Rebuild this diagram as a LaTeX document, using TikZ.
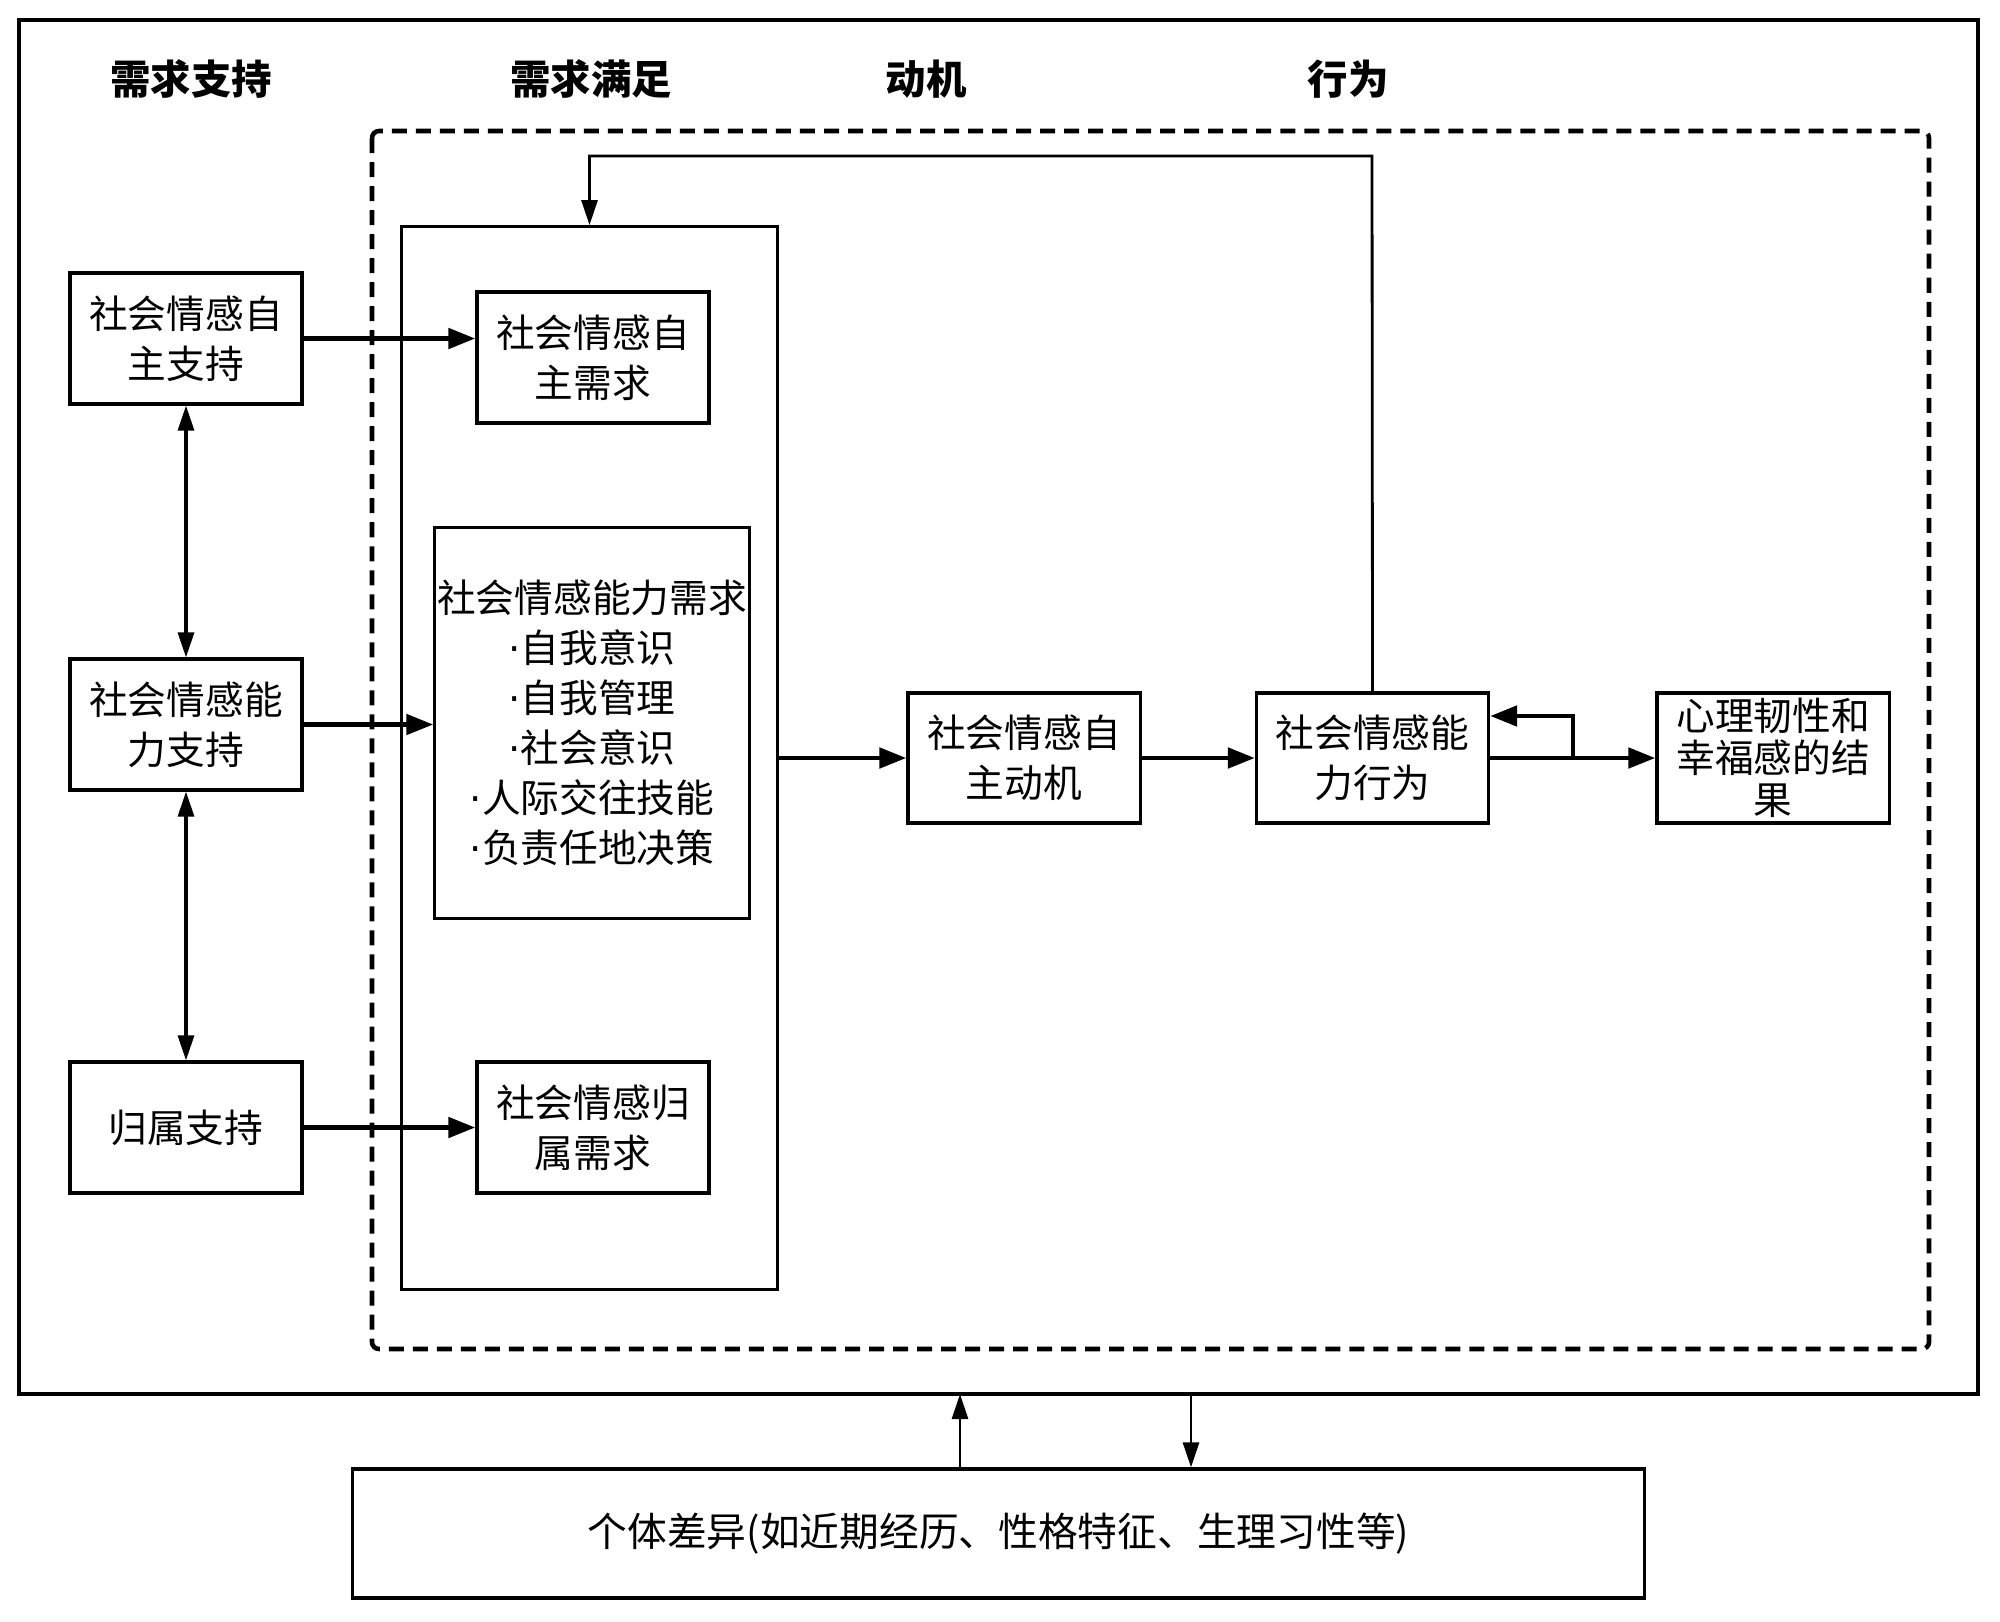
\documentclass[tikz,border=0pt]{standalone}
\usepackage{fontspec}
\setmainfont{Noto Sans CJK SC}
\newfontfamily\latdot{DejaVu Sans}
\newcommand{\bdot}{{\latdot ·}}
\usetikzlibrary{arrows.meta,positioning}
\begin{document}
\begin{tikzpicture}[x=0.01cm,y=-0.01cm,
  box/.style={draw,line width=0.9pt,align=center,inner sep=0pt,font=\fontsize{11}{14.2}\selectfont},
  hdr/.style={font=\fontsize{11.5}{14}\selectfont\bfseries},
  arr/.style={line width=1.4pt,-{Triangle[length=0.27cm,width=0.2cm]}},
  tarr/.style={line width=0.8pt,-{Triangle[length=0.25cm,width=0.16cm]}},
  darr/.style={line width=0.9pt,{Triangle[length=0.25cm,width=0.16cm]}-{Triangle[length=0.25cm,width=0.16cm]}}]
\useasboundingbox (0,0) rectangle (2000,1621);
% outer frame and dashed region
\draw[line width=1.1pt] (19,20) rectangle (1978,1394);
\draw[line width=1.3pt,dash pattern=on 0.15cm off 0.09cm,rounded corners=2pt] (372,131) rectangle (1929,1349);
% headers
\node[hdr] (h1) at (191,79) {需求支持};
\node[hdr] (h2) at (591,79) {需求满足};
\node[hdr] (h3) at (926,79) {动机};
\node[hdr] (h4) at (1348,79) {行为};
% column box
\node[box,minimum width=3.75cm,minimum height=10.62cm] (col) at (589.5,758) {};
% support boxes
\node[box,minimum width=2.32cm,minimum height=1.31cm] (s1) at (186,338.5) {社会情感自\\主支持};
\node[box,minimum width=2.32cm,minimum height=1.31cm] (s2) at (186,724.5) {社会情感能\\力支持};
\node[box,minimum width=2.32cm,minimum height=1.31cm] (s3) at (186,1127.5) {归属支持};
% need boxes
\node[box,minimum width=2.32cm,minimum height=1.31cm] (n1) at (593,357.5) {社会情感自\\主需求};
\node[box,minimum width=3.14cm,minimum height=3.90cm] (n2) at (592,723) {社会情感能力需求\\\bdot 自我意识\\\bdot 自我管理\\\bdot 社会意识\\\bdot 人际交往技能\\\bdot 负责任地决策};
\node[box,minimum width=2.32cm,minimum height=1.31cm] (n3) at (593,1127.5) {社会情感归\\属需求};
% motive, behaviour, result
\node[box,minimum width=2.32cm,minimum height=1.30cm] (mot) at (1024,758) {社会情感自\\主动机};
\node[box,minimum width=2.32cm,minimum height=1.30cm] (beh) at (1372.5,758) {社会情感能\\力行为};
\node[box,minimum width=2.32cm,minimum height=1.30cm,font=\fontsize{11}{12}\selectfont] (res) at (1773,758) {心理韧性和\\幸福感的结\\果};
% bottom box
\node[box,minimum width=12.91cm,minimum height=1.29cm,font=\fontsize{11.3}{14}\selectfont] (bot) at (998.5,1533.5) {个体差异(如近期经历、性格特征、生理习性等)};
% horizontal arrows
\draw[arr] (s1.east) -- (s1.east -| n1.west);
\draw[arr] (s2.east) -- (s2.east -| n2.west);
\draw[arr] (s3.east) -- (s3.east -| n3.west);
\draw[arr] (col.east) -- (mot.west);
\draw[arr] (mot.east) -- (beh.west);
\draw[arr] (beh.east) -- (res.west);
\coordinate (br) at (1573,758);
\coordinate (bk) at (1573,716);
\draw[arr] (br) -- (bk) -- (bk -| beh.east);
% vertical double arrows
\draw[darr] (s1.south) -- (s2.north);
\draw[darr] (s2.south) -- (s3.north);
% feedback loop
\coordinate (fb) at (1372,156);
\draw[tarr] (beh.north) -- (fb) -| (col.north);
% individual differences
\coordinate (o1) at (960,1394);
\coordinate (o2) at (1191,1394);
\draw[tarr] (bot.north -| o1) -- (o1);
\draw[tarr] (o2) -- (bot.north -| o2);
\end{tikzpicture}
\end{document}
